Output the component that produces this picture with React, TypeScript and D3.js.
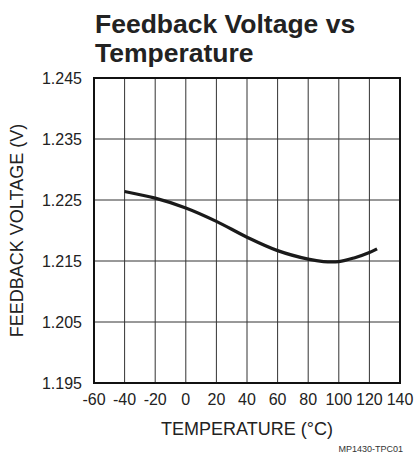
import { useEffect, useRef } from 'react'
import * as d3 from 'd3'

const TEMPS = [-40, -20, 0, 20, 40, 60, 80, 90, 100, 110, 120, 125]
const VOLTS = [1.2264, 1.2253, 1.2237, 1.2215, 1.2189, 1.2167, 1.2153, 1.2149, 1.2149, 1.2155, 1.2164, 1.217]
const X_TICKS = [-60, -40, -20, 0, 20, 40, 60, 80, 100, 120, 140]
const Y_TICKS = [1.195, 1.205, 1.215, 1.225, 1.235, 1.245]

const FONT = '"Liberation Sans", Arial, sans-serif'

export default function App() {
  const svgRef = useRef<SVGSVGElement>(null)

  useEffect(() => {
    if (!svgRef.current) return
    const W = 414
    const H = 460
    const margin = { top: 78, right: 14, bottom: 77, left: 94 }
    const iW = W - margin.left - margin.right
    const iH = H - margin.top - margin.bottom

    const svg = d3.select(svgRef.current).attr('viewBox', `0 0 ${W} ${H}`)
    svg.selectAll('*').remove()
    svg.append('rect').attr('width', W).attr('height', H).attr('fill', '#fff')

    const g = svg.append('g').attr('transform', `translate(${margin.left},${margin.top})`)
    const x = d3.scaleLinear().domain([-60, 140]).range([0, iW])
    const y = d3.scaleLinear().domain([1.195, 1.245]).range([iH, 0])

    // grid
    X_TICKS.slice(1, -1).forEach((t) => {
      g.append('line').attr('x1', x(t)).attr('x2', x(t)).attr('y1', 0).attr('y2', iH)
        .attr('stroke', '#333').attr('stroke-width', 1)
    })
    Y_TICKS.slice(1, -1).forEach((t) => {
      g.append('line').attr('x1', 0).attr('x2', iW).attr('y1', y(t)).attr('y2', y(t))
        .attr('stroke', '#333').attr('stroke-width', 1)
    })

    // frame
    g.append('rect').attr('x', 0).attr('y', 0).attr('width', iW).attr('height', iH)
      .attr('fill', 'none').attr('stroke', '#111').attr('stroke-width', 2)

    // tick labels
    X_TICKS.forEach((t) => {
      g.append('text').attr('x', x(t)).attr('y', iH + 22).attr('text-anchor', 'middle')
        .attr('font-family', FONT).attr('font-size', 16).attr('fill', '#222').text(t)
    })
    Y_TICKS.forEach((t) => {
      g.append('text').attr('x', -12).attr('y', y(t) + 6).attr('text-anchor', 'end')
        .attr('font-family', FONT).attr('font-size', 16).attr('fill', '#222').text(t.toFixed(3))
    })

    // curve
    const line = d3.line<number>()
      .x((_, i) => x(TEMPS[i]))
      .y((v) => y(v))
      .curve(d3.curveCatmullRom)
    g.append('path').datum(VOLTS).attr('d', line).attr('fill', 'none')
      .attr('stroke', '#1a1a1a').attr('stroke-width', 3.2).attr('stroke-linecap', 'butt')

    // axis titles
    g.append('text').attr('x', iW / 2).attr('y', iH + 52).attr('text-anchor', 'middle')
      .attr('font-family', FONT).attr('font-size', 18).attr('fill', '#222').text('TEMPERATURE (°C)')
    g.append('text').attr('transform', 'rotate(-90)').attr('x', -iH / 2).attr('y', -71)
      .attr('text-anchor', 'middle').attr('font-family', FONT).attr('font-size', 18)
      .attr('fill', '#222').text('FEEDBACK VOLTAGE (V)')

    // title
    svg.append('text').attr('x', 95).attr('y', 33).attr('font-family', FONT)
      .attr('font-size', 26.5).attr('font-weight', 700).attr('fill', '#222').text('Feedback Voltage vs')
    svg.append('text').attr('x', 95).attr('y', 62).attr('font-family', FONT)
      .attr('font-size', 26.5).attr('font-weight', 700).attr('fill', '#222').text('Temperature')

    svg.append('text').attr('x', 403).attr('y', 452).attr('text-anchor', 'end')
      .attr('font-family', FONT).attr('font-size', 9).attr('fill', '#333').text('MP1430-TPC01')

    return () => { svg.selectAll('*').remove() }
  }, [])

  return (
    <svg ref={svgRef} width={414} height={460}
      style={{ position: 'absolute', left: 0, top: 0, display: 'block' }} />
  )
}
